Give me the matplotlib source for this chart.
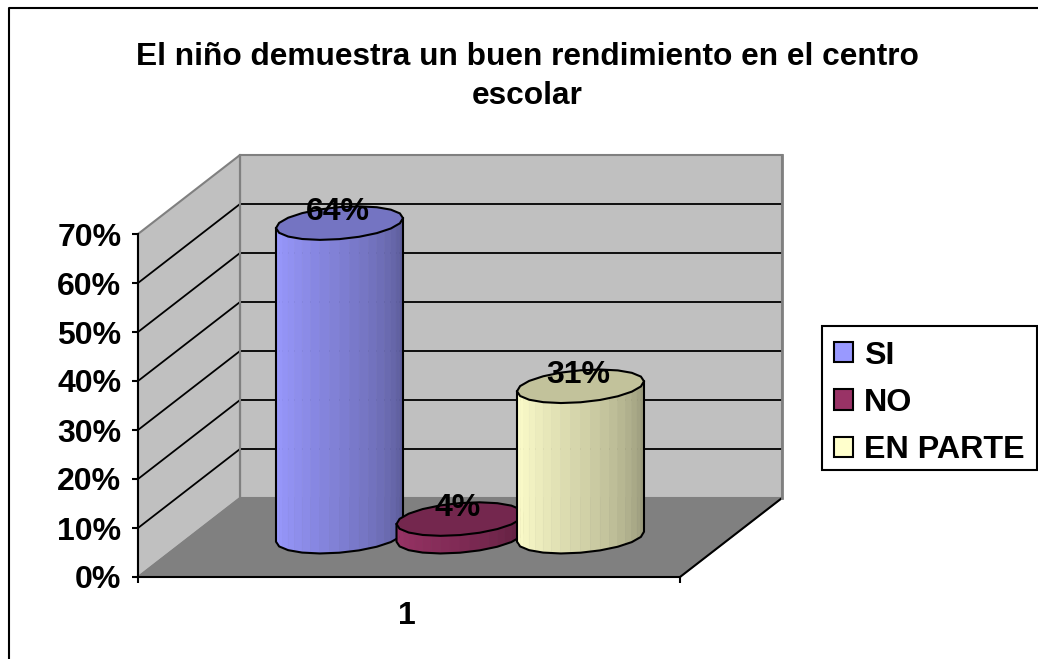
import matplotlib
matplotlib.use('Agg')
import matplotlib.pyplot as plt
import numpy as np
from matplotlib.patches import Patch, Rectangle
from matplotlib.ticker import PercentFormatter

plt.rcParams['font.family'] = ['Liberation Sans', 'DejaVu Sans']
plt.rcParams['font.weight'] = 'bold'

title = 'El niño demuestra un buen rendimiento en el centro\nescolar'
categories = ['1']
series_names = ['SI', 'NO', 'EN PARTE']
series_values = [0.64, 0.036, 0.307]
series_colors = ['#9999FF', '#993366', '#FFFFCC']
y_ticks = [0, 0.1, 0.2, 0.3, 0.4, 0.5, 0.6, 0.7]

W, H = 1038, 659
fig = plt.figure(figsize=(W / 100, H / 100), dpi=100)

# axes is the front plane of the 3d box
left, right, bottom, top = 138, 680, 577, 234
ax = fig.add_axes([left / W, 1 - bottom / H, (right - left) / W, (bottom - top) / H])
ax.set_xlim(0, 1)
ax.set_ylim(0, 0.7)
ax.patch.set_visible(False)

# pixels -> data units
px = 1 / (right - left)
py = 0.7 / (bottom - top)
depth_x = 102 * px
depth_y = 79 * py

# walls and floor
ax.fill([depth_x, 1 + depth_x, 1 + depth_x, depth_x], [depth_y, depth_y, 0.7 + depth_y, 0.7 + depth_y],
        color='#C0C0C0', ec='#808080', lw=1.5, clip_on=False, zorder=1)
ax.fill([0, depth_x, depth_x, 0], [0, depth_y, 0.7 + depth_y, 0.7],
        color='#C0C0C0', ec='#808080', lw=1.5, clip_on=False, zorder=1)
ax.fill([0, 1, 1 + depth_x, depth_x], [0, 0, depth_y, depth_y],
        color='#808080', ec='#808080', lw=1, clip_on=False, zorder=1)
ax.plot([1, 1 + depth_x], [0, depth_y], color='black', lw=1.5, clip_on=False, zorder=2)

# gridlines
for t in y_ticks[1:-1]:
    ax.plot([0, depth_x, 1 + depth_x], [t, t + depth_y, t + depth_y], color='black', lw=1.3,
            clip_on=False, zorder=2)
ax.plot([depth_x, depth_x], [depth_y, 0.7 + depth_y], color='#808080', lw=1.5, clip_on=False, zorder=2)
ax.plot([1 + depth_x, 1 + depth_x], [depth_y, 0.7 + depth_y], color='#808080', lw=2, clip_on=False, zorder=2)


def shade(color, f):
    rgb = np.array(matplotlib.colors.to_rgb(color))
    return tuple(rgb * f)


def ring(cx, cy, t):
    # the ellipse of a cylinder end, tilted a bit like Excel draws it
    a, b, tilt = 63.5 * px, 16 * py, 5 * py
    return cx + a * np.cos(t), cy + tilt * np.cos(t) + b * np.sin(t)


def cylinder(cx, value, color, z):
    base = depth_y * 0.51
    # side, bands get darker to the right
    ts = np.linspace(np.pi, 2 * np.pi, 21)
    for i in range(20):
        xa, ya = ring(cx, base, ts[i:i + 2])
        xb, yb = ring(cx, base + value, ts[i:i + 2])
        f = 1 - 0.42 * (i / 19) ** 1.3
        c = shade(color, f)
        ax.fill([xa[0], xa[1], xb[1], xb[0]], [ya[0], ya[1], yb[1], yb[0]], color=c, lw=0.4,
                clip_on=False, zorder=z)
    # outline is a rough polygon in the original
    xa, ya = ring(cx, base, ts[::2])
    xb, yb = ring(cx, base + value, ts[::2])
    ax.plot(np.r_[xb[0], xa, xb[-1]], np.r_[yb[0], ya, yb[-1]], color='black', lw=1.5, clip_on=False, zorder=z)
    # top
    tt = np.linspace(0, 2 * np.pi, 21)
    xt, yt = ring(cx, base + value, tt)
    ax.fill(xt, yt, fc=shade(color, 0.76), ec='black', lw=1.5, clip_on=False, zorder=z)


centers = [0.5 + depth_x / 2 + (i - 1) * 120.5 * px for i in range(len(series_values))]
for i, (cx, v, c) in enumerate(zip(centers, series_values, series_colors)):
    cylinder(cx, v, c, 3 + i)
for cx, v in zip(centers, series_values):
    ax.text(cx - 2 * px, v + depth_y / 2 + 12 * py, f'{v:.0%}', ha='center', va='center', fontsize=23,
            fontweight='bold', color='black', zorder=10, clip_on=False)

# axes lines
for s in ['top', 'right']:
    ax.spines[s].set_visible(False)
for s in ['left', 'bottom']:
    ax.spines[s].set_linewidth(1.5)
    ax.spines[s].set_zorder(9)
ax.set_yticks(y_ticks)
ax.yaxis.set_major_formatter(PercentFormatter(1, decimals=0))
ax.set_xticks([0, 1])
ax.set_xticklabels(['', ''])
ax.tick_params(axis='both', length=4, width=1.5, labelsize=23, pad=8)
for lab in ax.get_yticklabels():
    lab.set_fontweight('bold')
ax.text(0.5 - 2 * px, -39 * py, categories[0], ha='center', va='center', fontsize=23, fontweight='bold')

fig.text(527 / W, 1 - 76.5 / H, title, ha='center', va='center', fontsize=22.8, fontweight='bold', linespacing=1.36)

# chart area border, only left and top show in the picture
fig.add_artist(plt.Line2D([8.5 / W, 8.5 / W, 1], [0, 1 - 7.5 / H, 1 - 7.5 / H], color='black', lw=1.5))

# legend box
fig.add_artist(Rectangle((822 / W, 1 - 470 / H), 215 / W, 144 / H, fc='white', ec='black', lw=1.5,
                         transform=fig.transFigure))
handles = [Patch(fc=c, ec='black', lw=1.5) for c in series_colors]
leg = fig.legend(handles, series_names, loc='upper left', bbox_to_anchor=(834 / W, 1 - 340.5 / H),
                 frameon=False, handlelength=0.6, handleheight=0.6, handletextpad=0.34, labelspacing=0.54,
                 borderpad=0, borderaxespad=0, prop={'size': 23.2, 'weight': 'bold'})
leg.set_zorder(20)

fig.savefig('out.png', dpi=100)
